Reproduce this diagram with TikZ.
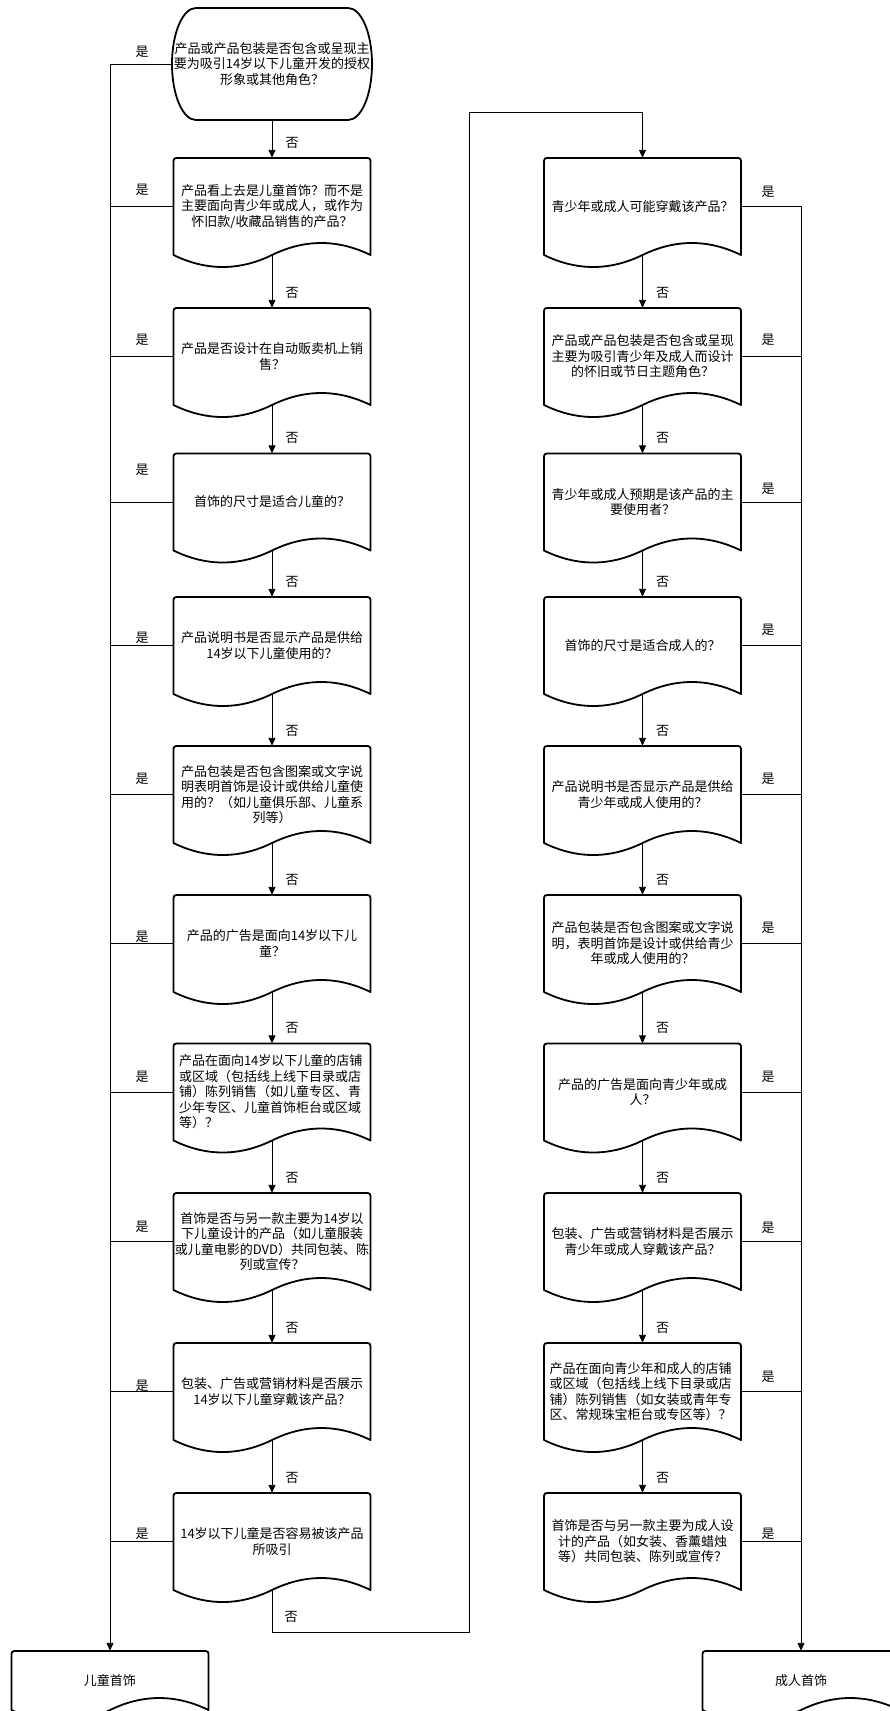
\documentclass[tikz,border=0pt]{standalone}
\usepackage{fontspec}
\setmainfont{Noto Sans CJK SC}
\usetikzlibrary{arrows.meta,calc}
\newcommand\txtfont{\fontsize{13pt}{15.5pt}\selectfont}
\tikzset{
  docline/.style={line width=1.8pt, line join=round},
  docbox/.style={inner sep=0pt, minimum width=197pt, minimum height=97pt, text width=196pt, align=center, font=\txtfont},
  conn/.style={line width=0.9pt},
  arr/.style={conn, -{Triangle[length=8pt,width=7pt]}},
  lbl/.style={font=\txtfont, inner sep=0pt},
}
% #1 name, #2 x centre, #3 top, #4 height, #5 options, #6 text
\newcommand\docnode[6]{%
  \node[docbox, minimum height=#4pt, #5] (#1) at (#2, {#3+#4/2}) {#6};
  \draw[docline] ({#2-98.5},{#3+#4}) -- ({#2-98.5},{#3+6})
    .. controls ({#2-98.5},{#3}) .. ({#2-92.5},{#3}) -- ({#2+92.5},{#3})
    .. controls ({#2+98.5},{#3}) .. ({#2+98.5},{#3+6}) -- ({#2+98.5},{#3+#4})
    .. controls ({#2+98.5-32.8},{#3+#4-16}) and ({#2+32.8},{#3+#4-16}) .. ({#2},{#3+#4})
    .. controls ({#2-32.8},{#3+#4+16}) and ({#2-98.5+32.8},{#3+#4+16}) .. ({#2-98.5},{#3+#4}) -- cycle;
}
\begin{document}
\begin{tikzpicture}[x=1pt,y=-1pt]
\useasboundingbox (0,0) rectangle (890,1711);
% terminator
\node[docbox, minimum width=200pt, minimum height=112pt, text width=200pt] (L1) at (272,64)
  {产品或产品包装是否包含或呈现主\\要为吸引14岁以下儿童开发的授权\\形象或其他角色？};
\draw[docline] (196,8) -- (348,8) .. controls (361.3,8) and (372,33) .. (372,64)
  .. controls (372,95) and (361.3,120) .. (348,120) -- (196,120)
  .. controls (182.7,120) and (172,95) .. (172,64) .. controls (172,33) and (182.7,8) .. (196,8) -- cycle;
% left column
\docnode{L2}{272}{158}{97}{}{产品看上去是儿童首饰？而不是\\主要面向青少年或成人，或作为\\怀旧款/收藏品销售的产品？}
\docnode{L3}{272}{308}{97}{}{产品是否设计在自动贩卖机上销\\售？}
\docnode{L4}{272}{453.5}{97}{}{首饰的尺寸是适合儿童的？}
\docnode{L5}{272}{597}{97}{}{产品说明书是否显示产品是供给\\14岁以下儿童使用的？}
\docnode{L6}{272}{746}{97}{}{产品包装是否包含图案或文字说\\明表明首饰是设计或供给儿童使\\用的？（如儿童俱乐部、儿童系\\列等）}
\docnode{L7}{272}{895}{97}{}{产品的广告是面向14岁以下儿\\童？}
\docnode{L8}{272}{1043.5}{97}{align=left, text width=186pt}{产品在面向14岁以下儿童的店铺\\或区域（包括线上线下目录或店\\铺）陈列销售（如儿童专区、青\\少年专区、儿童首饰柜台或区域\\等）？}
\docnode{L9}{272}{1193}{97}{}{首饰是否与另一款主要为14岁以\\下儿童设计的产品（如儿童服装\\或儿童电影的DVD）共同包装、陈\\列或宣传？}
\docnode{L10}{272}{1343}{97}{}{包装、广告或营销材料是否展示\\14岁以下儿童穿戴该产品？}
\docnode{L11}{272}{1493}{97}{}{14岁以下儿童是否容易被该产品\\所吸引}
% right column
\docnode{R1}{642.5}{158}{97}{}{青少年或成人可能穿戴该产品？}
\docnode{R2}{642.5}{308}{97}{}{产品或产品包装是否包含或呈现\\主要为吸引青少年及成人而设计\\的怀旧或节日主题角色？}
\docnode{R3}{642.5}{453.5}{97}{}{青少年或成人预期是该产品的主\\要使用者？}
\docnode{R4}{642.5}{597}{97}{}{首饰的尺寸是适合成人的？}
\docnode{R5}{642.5}{746}{97}{}{产品说明书是否显示产品是供给\\青少年或成人使用的？}
\docnode{R6}{642.5}{895}{97}{}{产品包装是否包含图案或文字说\\明，表明首饰是设计或供给青少\\年或成人使用的？}
\docnode{R7}{642.5}{1043.5}{97}{}{产品的广告是面向青少年或成\\人？}
\docnode{R8}{642.5}{1193}{97}{}{包装、广告或营销材料是否展示\\青少年或成人穿戴该产品？}
\docnode{R9}{642.5}{1343}{97}{align=left, text width=186pt}{产品在面向青少年和成人的店铺\\或区域（包括线上线下目录或店\\铺）陈列销售（如女装或青年专\\区、常规珠宝柜台或专区等）？}
\docnode{R10}{642.5}{1493}{97}{}{首饰是否与另一款主要为成人设\\计的产品（如女装、香薰蜡烛\\等）共同包装、陈列或宣传？}
% end nodes
\docnode{E1}{110}{1651}{59}{}{儿童首饰}
\docnode{E2}{801}{1651}{59}{}{成人首饰}
% "no" connectors
\foreach \a/\b in {L1/L2,L2/L3,L3/L4,L4/L5,L5/L6,L6/L7,L7/L8,L8/L9,L9/L10,L10/L11,
                   R1/R2,R2/R3,R3/R4,R4/R5,R5/R6,R6/R7,R7/R8,R8/R9,R9/R10}{
  \draw[arr] (\a.south) -- (\b.north);
  \node[lbl] at ([shift={(20,-15)}]\b.north) {否};
}
\coordinate (ta) at (469,1632);
\coordinate (tb) at (469,112);
\draw[arr] (L11.south) |- (ta) -- (tb) -| (R1.north);
\node[lbl] at (291,1617) {否};
% "yes" connectors
\draw[arr] (L1.west) -| (E1.north);
\foreach \n in {L2,L3,L4,L5,L6,L7,L8,L9,L10,L11}{
  \draw[conn] (\n.west) -- (\n.west -| E1.north);
}
\draw[arr] (R1.east) -| (E2.north);
\foreach \n in {R2,R3,R4,R5,R6,R7,R8,R9,R10}{
  \draw[conn] (\n.east) -- (\n.east -| E2.north);
}
\foreach \y in {52,190,340,470,638,779,937,1077,1227,1386,1534}{
  \node[lbl] at (142,\y) {是};
}
\foreach \y in {192,340,489,630,779,928,1077,1228,1377,1534}{
  \node[lbl] at (768,\y) {是};
}
\end{tikzpicture}
\end{document}
